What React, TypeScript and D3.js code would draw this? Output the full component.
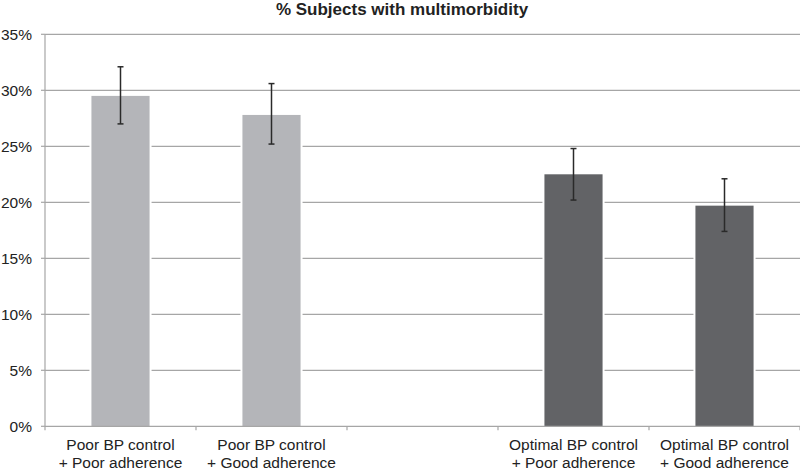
import React from "react";
import * as d3 from "d3";

const title = "% Subjects with multimorbidity";
const categories = [
  "Poor BP control|+ Poor adherence",
  "Poor BP control|+ Good adherence",
  "",
  "Optimal BP control|+ Poor adherence",
  "Optimal BP control|+ Good adherence",
];
const values: (number | null)[] = [0.295, 0.278, null, 0.225, 0.197];
const errLow: (number | null)[] = [0.27, 0.252, null, 0.202, 0.174];
const errHigh: (number | null)[] = [0.321, 0.306, null, 0.248, 0.221];
const barColors = ["#b4b5b9", "#b4b5b9", "#b4b5b9", "#626366", "#626366"];
const yTicks = [0, 0.05, 0.1, 0.15, 0.2, 0.25, 0.3, 0.35];

const W = 800;
const H = 470;
const left = 45;
const right = 800;
const top = 34.3;
const bottom = 426.3;

export default function App() {
  const x = d3.scaleBand<string>().domain(categories.map((c, i) => i + "")).range([left, right]).padding(0);
  const y = d3.scaleLinear().domain([0, 0.35]).range([bottom, top]);
  const bw = x.bandwidth();
  const barW = bw * 0.385;
  const fmt = d3.format(".0%");
  const font = "'Liberation Sans', Arial, sans-serif";
  const boundaries = d3.range(categories.length + 1).map((i) => left + i * x.step());

  return (
    <svg width={W} height={H} style={{ position: "absolute", left: 0, top: 0, background: "#fff" }} fontFamily={font}>
      <rect width={W} height={H} fill="#fff" />
      <text x={402} y={14.5} textAnchor="middle" fontSize={17} fontWeight="bold" fill="#222">{title}</text>
      {yTicks.map((t) => (
        <g key={t}>
          {t > 0 && <line x1={left} x2={right} y1={y(t)} y2={y(t)} stroke="#a6a6a6" strokeWidth={1.2} />}
          <line x1={left - 4} x2={left} y1={y(t)} y2={y(t)} stroke="#a6a6a6" strokeWidth={1.2} />
          <text x={32} y={y(t)} dy="0.36em" textAnchor="end" fontSize={15.5} fill="#222">{fmt(t)}</text>
        </g>
      ))}
      {categories.map((c, i) => {
        const v = values[i];
        if (v == null) return null;
        const bx = (x(i + "") as number) + (bw - barW) / 2;
        const cx = bx + barW / 2;
        return (
          <g key={i}>
            <rect x={bx - 2} y={y(v) - 1} width={barW + 4} height={bottom - y(v) + 1} fill="#fff" />
            <rect x={bx} y={y(v)} width={barW} height={bottom - y(v)} fill={barColors[i]} />
            <line x1={cx} x2={cx} y1={y(errLow[i] as number)} y2={y(errHigh[i] as number)} stroke="#2a2a2a" strokeWidth={1.5} />
            <line x1={cx - 3} x2={cx + 3} y1={y(errLow[i] as number)} y2={y(errLow[i] as number)} stroke="#2a2a2a" strokeWidth={1.5} />
            <line x1={cx - 3} x2={cx + 3} y1={y(errHigh[i] as number)} y2={y(errHigh[i] as number)} stroke="#2a2a2a" strokeWidth={1.5} />
          </g>
        );
      })}
      <line x1={left} x2={left} y1={top} y2={bottom} stroke="#a6a6a6" strokeWidth={1.2} />
      <line x1={left} x2={right} y1={bottom} y2={bottom} stroke="#a6a6a6" strokeWidth={1.2} />
      {boundaries.map((b, i) => (
        <line key={i} x1={b} x2={b} y1={bottom} y2={bottom + 4} stroke="#a6a6a6" strokeWidth={1.2} />
      ))}
      {categories.map((c, i) => {
        if (!c) return null;
        const cx = (x(i + "") as number) + bw / 2;
        const lines = c.split("|");
        return (
          <text key={i} x={cx} textAnchor="middle" fontSize={15.5} fill="#222">
            {lines.map((l, j) => (
              <tspan key={j} x={cx} y={450 + j * 17.5}>{l}</tspan>
            ))}
          </text>
        );
      })}
    </svg>
  );
}
